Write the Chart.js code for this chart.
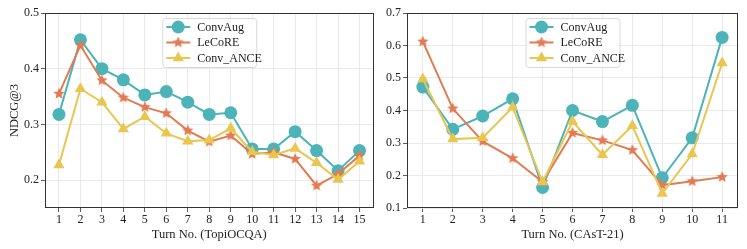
<!DOCTYPE html>
<html>
<head>
<meta charset="utf-8">
<script src="https://cdn.jsdelivr.net/npm/chart.js@4.4.1/dist/chart.umd.min.js"></script>
<style>
  body { margin: 0; background: #fff; }
  #left { position: absolute; left: 0; top: 0; }
  #right { position: absolute; left: 375px; top: 0; }
</style>
</head>
<body>
<canvas id="left" width="380" height="249"></canvas>
<canvas id="right" width="372" height="249"></canvas>
<script>
// TopiOCQA
var turnsTopi = [1, 2, 3, 4, 5, 6, 7, 8, 9, 10, 11, 12, 13, 14, 15];
var convAugTopi = [0.318, 0.452, 0.400, 0.380, 0.353, 0.359, 0.340, 0.318, 0.321, 0.256, 0.256, 0.287, 0.253, 0.217, 0.253];
var lecoreTopi = [0.355, 0.442, 0.379, 0.348, 0.331, 0.320, 0.289, 0.269, 0.280, 0.247, 0.250, 0.238, 0.190, 0.211, 0.244];
var anceTopi = [0.227, 0.364, 0.340, 0.292, 0.314, 0.284, 0.270, 0.272, 0.293, 0.251, 0.245, 0.257, 0.231, 0.201, 0.234];
var yTicksTopi = [0.2, 0.3, 0.4, 0.5];

// CAsT-21
var turnsCast = [1, 2, 3, 4, 5, 6, 7, 8, 9, 10, 11];
var convAugCast = [0.472, 0.342, 0.383, 0.436, 0.163, 0.400, 0.366, 0.416, 0.193, 0.316, 0.625];
var lecoreCast = [0.612, 0.406, 0.305, 0.253, 0.180, 0.331, 0.308, 0.278, 0.170, 0.182, 0.195];
var anceCast = [0.497, 0.312, 0.316, 0.410, 0.180, 0.366, 0.264, 0.353, 0.145, 0.266, 0.546];
var yTicksCast = [0.1, 0.2, 0.3, 0.4, 0.5, 0.6, 0.7];

var teal = '#4cb4b9';
var orange = '#e27a52';
var yellow = '#e8c650';

Chart.defaults.font.family = '"Liberation Serif", "DejaVu Serif", serif';
Chart.defaults.color = '#222';

// filled 5 point star for LeCoRE
function makeStar(color, r) {
    var size = Math.ceil(r * 2 + 2);
    var c = document.createElement('canvas');
    c.width = size; c.height = size;
    var g = c.getContext('2d');
    g.beginPath();
    for (var i = 0; i < 10; i++) {
        var rad = (i % 2 == 0) ? r : r * 0.45;
        var a = -Math.PI / 2 + i * Math.PI / 5;
        var px = size / 2 + rad * Math.cos(a);
        var py = size / 2 + rad * Math.sin(a);
        if (i == 0) g.moveTo(px, py); else g.lineTo(px, py);
    }
    g.closePath();
    g.fillStyle = color;
    g.fill();
    return c;
}
var starImg = makeStar(orange, 6);

function pts(xs, ys) {
    return xs.map(function (x, i) { return { x: x, y: ys[i] }; });
}

var boxPlugin = {
    id: 'box',
    afterDraw: function (chart) {
        var a = chart.chartArea, ctx = chart.ctx;
        ctx.save();
        ctx.strokeStyle = '#333';
        ctx.lineWidth = 1;
        ctx.strokeRect(Math.round(a.left) + 0.5, Math.round(a.top) + 0.5,
            Math.round(a.right - a.left) - 1, Math.round(a.bottom - a.top) - 1);
        ctx.restore();
    }
};

// legend inside the plot, upper center
var innerLegend = {
    id: 'innerLegend',
    afterDraw: function (chart) {
        var a = chart.chartArea, ctx = chart.ctx;
        var w = 94, h = 49;
        var x0 = (a.left + a.right) / 2 - w / 2, y0 = a.top + 5;
        ctx.save();
        ctx.fillStyle = 'rgba(255,255,255,0.85)';
        ctx.strokeStyle = '#d8d8d8';
        ctx.lineWidth = 1;
        ctx.beginPath();
        ctx.roundRect(x0 + 0.5, y0 + 0.5, w, h, 3);
        ctx.fill();
        ctx.stroke();
        chart.data.datasets.forEach(function (ds, i) {
            var yy = y0 + 9 + i * 15.5;
            ctx.strokeStyle = ds.borderColor;
            ctx.lineWidth = 2;
            ctx.beginPath();
            ctx.moveTo(x0 + 4, yy);
            ctx.lineTo(x0 + 28, yy);
            ctx.stroke();
            ctx.fillStyle = ds.backgroundColor;
            Chart.helpers.drawPoint(ctx, {
                pointStyle: ds.pointStyle, radius: ds.pointRadius, rotation: 0, borderWidth: 0
            }, x0 + 16, yy);
            ctx.fillStyle = '#222';
            ctx.font = '12px "Liberation Serif"';
            ctx.textBaseline = 'middle';
            ctx.fillText(ds.label, x0 + 35, yy + 0.5);
        });
        ctx.restore();
    }
};

function makeChart(id, turns, s1, s2, s3, xMin, xMax, yMin, yMax, yTicks, xTitle, yTitle, yWidth, padRight) {
    return new Chart(document.getElementById(id), {
        type: 'line',
        data: {
            datasets: [
                { label: 'ConvAug', data: pts(turns, s1), borderColor: teal, backgroundColor: teal,
                  pointStyle: 'circle', pointRadius: 6.5, borderWidth: 2, pointBorderWidth: 0, order: 3 },
                { label: 'LeCoRE', data: pts(turns, s2), borderColor: orange, backgroundColor: orange,
                  pointStyle: starImg, pointRadius: 6, borderWidth: 2, pointBorderWidth: 0, order: 2 },
                { label: 'Conv_ANCE', data: pts(turns, s3), borderColor: yellow, backgroundColor: yellow,
                  pointStyle: 'triangle', pointRadius: 6.5, borderWidth: 2, pointBorderWidth: 0, order: 1 }
            ]
        },
        options: {
            responsive: false,
            animation: false,
            layout: { padding: { top: 13, right: padRight, left: 0, bottom: 0 } },
            plugins: { legend: { display: false }, tooltip: { enabled: false } },
            scales: {
                x: {
                    type: 'linear', min: xMin, max: xMax,
                    afterBuildTicks: function (s) { s.ticks = turns.map(function (t) { return { value: t }; }); },
                    afterFit: function (s) { s.height = 41; },
                    ticks: { font: { size: 12 }, padding: 1, color: '#222' },
                    grid: { color: '#e4e4e4', borderDash: [3, 3], lineWidth: 0.8, tickLength: 4,
                            tickColor: '#333', tickBorderDash: [] },
                    border: { display: false },
                    title: { display: true, text: xTitle, font: { size: 12.5 }, padding: { top: 0, bottom: 7 }, color: '#222' }
                },
                y: {
                    min: yMin, max: yMax,
                    afterBuildTicks: function (s) { s.ticks = yTicks.map(function (t) { return { value: t }; }); },
                    afterFit: function (s) { s.width = yWidth; },
                    ticks: { font: { size: 12 }, padding: 2, color: '#222',
                             callback: function (v) { return v.toFixed(1); } },
                    grid: { color: '#e4e4e4', borderDash: [3, 3], lineWidth: 0.8, tickLength: 4,
                            tickColor: '#333', tickBorderDash: [] },
                    border: { display: false },
                    title: { display: !!yTitle, text: yTitle, font: { size: 12.5 }, padding: { top: 7, bottom: 0 }, color: '#222' }
                }
            }
        },
        plugins: [boxPlugin, innerLegend]
    });
}

makeChart('left', turnsTopi, convAugTopi, lecoreTopi, anceTopi, 0.35, 15.65, 0.15, 0.5, yTicksTopi,
    'Turn No. (TopiOCQA)', 'NDCG@3', 45, 5);
makeChart('right', turnsCast, convAugCast, lecoreCast, anceCast, 0.47, 11.53, 0.1, 0.7, yTicksCast,
    'Turn No. (CAsT-21)', '', 32, 9);
</script>
</body>
</html>
